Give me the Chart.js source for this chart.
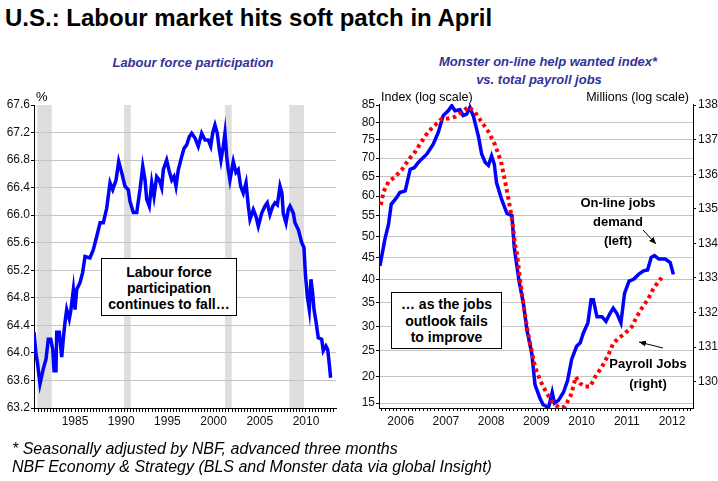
<!DOCTYPE html>
<html><head><meta charset="utf-8">
<script src="https://cdn.jsdelivr.net/npm/chart.js@4.4.1/dist/chart.umd.min.js"></script>
<style>
body{margin:0;background:#fff;}
#wrap{position:relative;width:718px;height:481px;overflow:hidden;font-family:'Liberation Sans',Arial,sans-serif;color:#000;}
.t{position:absolute;white-space:nowrap;}
canvas{position:absolute;}
.box{position:absolute;box-sizing:border-box;border:1.5px solid #000;background:#fff;text-align:center;font-weight:bold;font-size:14px;white-space:nowrap;}
</style></head><body><div id="wrap">
<canvas id="c1" width="350" height="340" style="left:0;top:90px"></canvas>
<canvas id="c2" width="368" height="340" style="left:350px;top:90px"></canvas>
<div class="t" style="left:5px;top:6px;font-size:24px;line-height:24px;font-weight:bold;">U.S.: Labour market hits soft patch in April</div>
<div class="t" style="left:93px;width:200px;text-align:center;top:56px;font:italic bold 13px/13px 'Liberation Sans',Arial,sans-serif;color:#333399;">Labour force participation</div>
<div class="t" style="left:439px;width:200px;text-align:center;top:53px;font:italic bold 13px/18px 'Liberation Sans',Arial,sans-serif;color:#333399;">Monster on-line help wanted index*<br>vs. total payroll jobs</div>
<div class="t" style="left:36px;top:90px;font-size:13px;line-height:13px;">%</div>
<div class="t" style="left:381px;top:91px;font-size:12.5px;line-height:13px;">Index (log scale)</div>
<div class="t" style="right:29px;top:91px;font-size:12.5px;line-height:13px;">Millions (log scale)</div>
<div class="box" style="left:101px;top:258px;width:136px;height:58px;padding-top:4.5px;line-height:16.3px;">Labour force<br>participation<br>continues to fall…</div>
<div class="box" style="left:391px;top:292px;width:111px;height:57px;padding-top:3px;line-height:16.7px;">… as the jobs<br>outlook fails<br>to improve</div>
<div class="t" style="left:558px;width:120px;text-align:center;top:192.5px;font:bold 13px/19px 'Liberation Sans',Arial,sans-serif;">On-line jobs<br>demand<br>(left)</div>
<div class="t" style="left:588px;width:120px;text-align:center;top:353.5px;font:bold 13px/20px 'Liberation Sans',Arial,sans-serif;">Payroll Jobs<br>(right)</div>
<svg style="position:absolute;left:0;top:0" width="718" height="481">
<defs><marker id="ah" markerWidth="8" markerHeight="8" refX="7" refY="4" orient="auto" markerUnits="userSpaceOnUse"><path d="M0,1 L7,4 L0,7 z" fill="#000"/></marker></defs>
<line x1="643" y1="230" x2="656" y2="244" stroke="#000" stroke-width="1" marker-end="url(#ah)"/>
<line x1="663" y1="348" x2="639" y2="342" stroke="#000" stroke-width="1" marker-end="url(#ah)"/>
</svg>
<div class="t" style="left:12px;top:440px;font-size:16px;line-height:18px;font-style:italic;">* Seasonally adjusted by NBF, advanced three months<br>NBF Economy &amp; Strategy (BLS and Monster data via global Insight)</div>
</div>
<script>
// ---------- Left chart data: labour force participation (%) ----------
const lfpYears = [1980.56,1980.78,1980.92,1981.21,1981.57,1981.86,1982.11,1982.37,1982.59,1982.73,1982.94,1983.02,1983.30,1983.56,1983.73,1983.92,1984.10,1984.38,1984.53,1984.82,1985.00,1985.18,1985.54,1985.83,1986.08,1986.62,1986.98,1987.35,1987.71,1988.06,1988.43,1988.79,1989.08,1989.44,1989.73,1990.05,1990.41,1990.77,1990.95,1991.31,1991.68,1992.03,1992.33,1992.58,1992.76,1993.04,1993.30,1993.55,1993.84,1994.12,1994.38,1994.56,1994.92,1995.21,1995.47,1995.71,1995.93,1996.18,1996.55,1996.80,1997.09,1997.37,1997.63,1997.99,1998.34,1998.71,1999.07,1999.43,1999.69,1999.90,2000.15,2000.40,2000.62,2000.80,2001.05,2001.23,2001.42,2001.59,2001.77,2002.13,2002.42,2002.67,2002.93,2003.21,2003.51,2003.76,2003.94,2004.30,2004.59,2004.84,2005.21,2005.56,2005.81,2006.10,2006.40,2006.65,2006.90,2007.19,2007.40,2007.54,2007.84,2008.08,2008.27,2008.63,2008.81,2009.17,2009.54,2009.78,2009.93,2010.14,2010.36,2010.54,2010.72,2010.87,2011.08,2011.33,2011.70,2011.87,2012.16,2012.35,2012.49,2012.67];
const lfpValues = [64.30,63.98,63.87,63.55,63.77,63.91,64.20,64.20,64.05,63.74,63.74,64.30,64.30,63.94,64.20,64.45,64.63,64.49,64.60,64.92,64.63,64.92,65.02,65.17,65.40,65.38,65.50,65.69,65.89,65.89,66.10,66.47,66.37,66.51,66.78,66.62,66.42,66.37,66.20,66.04,66.04,66.37,66.71,66.51,66.23,66.13,66.47,66.27,66.56,66.51,66.40,66.66,66.80,66.63,66.51,66.56,66.42,66.66,66.85,66.97,67.02,67.14,67.19,67.12,67.00,67.19,67.09,67.09,67.00,67.19,67.31,67.19,66.95,66.80,67.00,67.19,66.85,66.66,66.51,66.78,66.62,66.66,66.42,66.32,66.47,66.13,65.94,66.08,65.98,65.84,66.03,66.13,66.18,66.01,66.13,66.18,66.15,66.42,66.32,66.03,65.89,66.08,66.13,66.03,65.89,65.79,65.60,65.53,65.16,64.83,64.63,65.07,64.87,64.63,64.46,64.22,64.20,64.03,64.10,64.05,63.88,63.64];
const recessionStarts = [1980.92, 1990.30, 2001.23, 2008.19];
const recessionEnds   = [1982.48, 1991.03, 2001.96, 2009.78];
const lfpTicks = [63.2,63.6,64.0,64.4,64.8,65.2,65.6,66.0,66.4,66.8,67.2,67.6];
const lfpYearLabels = [1985,1990,1995,2000,2005,2010];
const LFP_XMIN = 1980.56, LFP_XMAX = 2013.25;

// ---------- Right chart data ----------
const monsterYears = [2005.54,2005.65,2005.73,2005.79,2005.91,2005.98,2006.10,2006.21,2006.30,2006.39,2006.46,2006.58,2006.72,2006.83,2006.94,2007.05,2007.13,2007.20,2007.31,2007.38,2007.46,2007.53,2007.61,2007.72,2007.79,2007.87,2007.94,2008.01,2008.07,2008.12,2008.23,2008.35,2008.46,2008.51,2008.62,2008.71,2008.79,2008.90,2008.97,2009.08,2009.15,2009.27,2009.35,2009.40,2009.49,2009.60,2009.69,2009.78,2009.89,2009.97,2010.04,2010.14,2010.21,2010.26,2010.34,2010.45,2010.54,2010.63,2010.70,2010.78,2010.87,2010.95,2011.05,2011.15,2011.26,2011.37,2011.46,2011.54,2011.61,2011.71,2011.85,2011.96,2012.03];
const monsterIndex = [43.1,49.3,52.9,57.9,59.6,60.9,61.3,67.0,67.4,68.8,69.7,71.1,73.8,77.1,81.9,83.3,84.8,83.3,83.6,81.9,82.3,84.3,81.6,75.9,71.1,68.8,68.0,70.6,68.3,63.4,59.2,55.6,55.1,47.5,39.5,35.0,29.3,24.4,18.4,15.9,14.7,14.2,17.0,15.0,15.5,17.0,19.2,23.3,25.9,26.6,28.6,30.7,35.6,35.6,32.0,32.0,31.0,32.7,33.8,32.7,30.7,37.0,39.7,40.1,41.2,42.0,42.2,45.1,45.5,44.7,44.7,43.9,41.2];
const payrollYears = [2005.56,2005.62,2005.73,2005.87,2006.02,2006.17,2006.32,2006.46,2006.61,2006.76,2006.91,2007.05,2007.20,2007.35,2007.50,2007.64,2007.79,2007.94,2008.09,2008.22,2008.31,2008.38,2008.46,2008.53,2008.57,2008.64,2008.71,2008.79,2008.86,2008.97,2009.08,2009.23,2009.38,2009.50,2009.63,2009.75,2009.82,2009.87,2009.97,2010.08,2010.19,2010.30,2010.45,2010.59,2010.70,2010.81,2010.96,2011.11,2011.22,2011.33,2011.48,2011.59,2011.70,2011.77];
const payrollJobs = [135.11,135.49,135.78,135.92,136.12,136.41,136.65,136.94,137.23,137.42,137.61,137.61,137.66,137.80,137.95,137.80,137.51,137.23,136.84,136.36,135.78,135.30,134.72,133.95,133.71,132.94,132.27,131.59,131.11,130.43,130.05,129.66,129.38,129.25,129.28,129.57,129.86,130.14,129.95,129.86,129.86,130.14,130.43,130.77,131.11,131.25,131.40,131.59,131.88,132.12,132.41,132.70,132.89,133.01];
const indexTicks = [15,20,25,30,35,40,45,50,55,60,65,70,75,80,85];
const payrollTicks = [130,131,132,133,134,135,136,137,138];
const rightYearLabels = [2006,2007,2008,2009,2010,2011,2012];
const R_XMIN = 2005.52, R_XMAX = 2012.464;
const INDEX_MIN = 14.1, INDEX_MAX = 85.3, PAY_MIN = 129.24, PAY_MAX = 138.03;
const INDEX_SHIFT = 100;

// ---------- helpers ----------
const FONT_TICK = {family:"'Liberation Sans Narrow','Arial Narrow','Liberation Sans',Arial,sans-serif", size:12};
const TICK_COLOR = '#111';
const GRID = '#c4c4c4';

class ShiftLogScale extends Chart.LinearScale {
  _lg(v){ return Math.log(v + INDEX_SHIFT); }
  getPixelForValue(value){
    if (value === null || value === undefined || isNaN(value)) return NaN;
    const a = this._lg(this.min), b = this._lg(this.max);
    return this.getPixelForDecimal((this._lg(value) - a) / (b - a));
  }
  getValueForPixel(pixel){
    const a = this._lg(this.min), b = this._lg(this.max);
    return Math.exp(a + this.getDecimalForPixel(pixel) * (b - a)) - INDEX_SHIFT;
  }
}
ShiftLogScale.id = 'shiftlog';
ShiftLogScale.defaults = {};
Chart.register(ShiftLogScale);

const recessionPlugin = {
  id: 'recessions',
  beforeDraw(chart, args, opts){
    const {ctx, chartArea:a} = chart; const x = chart.scales.x;
    ctx.save(); ctx.fillStyle = '#dedede';
    opts.starts.forEach((s,i)=>{
      const x1 = x.getPixelForValue(s), x2 = x.getPixelForValue(opts.ends[i]);
      ctx.fillRect(x1, a.top, x2 - x1, a.bottom - a.top);
    });
    ctx.restore();
  }
};

function stepTicks(scale, perYear){
  const t = [];
  for (let k = Math.ceil(scale.min*perYear - 1e-9); k <= Math.floor(scale.max*perYear + 1e-9); k++) t.push({value:k/perYear});
  scale.ticks = t;
}
function yearLabel(list){
  return (v)=>{ const r = Math.round(v); return (Math.abs(v - r) < 1e-6 && list.includes(r)) ? String(r) : ''; };
}
const xy = (xs, ys) => xs.map((x,i)=>({x, y:ys[i]}));

new Chart(document.getElementById('c1'), {
  type:'line',
  data:{datasets:[{data:xy(lfpYears, lfpValues), borderColor:'#0000ff', borderWidth:3.5, pointRadius:0, tension:0, fill:false}]},
  options:{
    responsive:false, animation:false, devicePixelRatio:1,
    layout:{padding:{top:15, right:14, left:0, bottom:0}},
    plugins:{legend:{display:false}, tooltip:{enabled:false}, recessions:{starts:recessionStarts, ends:recessionEnds}},
    scales:{
      x:{type:'linear', min:LFP_XMIN, max:LFP_XMAX,
         grid:{drawOnChartArea:false, tickLength:4, tickColor:'#000'}, border:{color:'#000'},
         ticks:{autoSkip:false, maxRotation:0, minRotation:0, padding:2, font:FONT_TICK, color:TICK_COLOR, callback:yearLabel(lfpYearLabels)},
         afterBuildTicks:s=>stepTicks(s,3), afterFit:s=>{s.height=22;}},
      y:{type:'linear', min:lfpTicks[0], max:lfpTicks[lfpTicks.length-1], bounds:'data',
         grid:{color:c=>(c.tick && c.tick.value >= 67.6) ? 'rgba(0,0,0,0)' : GRID, tickColor:'#000', tickLength:3},
         border:{color:'#000'},
         ticks:{padding:1, font:FONT_TICK, color:TICK_COLOR, callback:v=>Number(v).toFixed(1)},
         afterBuildTicks:s=>{s.ticks = lfpTicks.map(v=>({value:v}));}, afterFit:s=>{s.width=34;}}
    }
  },
  plugins:[recessionPlugin]
});

new Chart(document.getElementById('c2'), {
  type:'line',
  data:{datasets:[
    {data:xy(payrollYears, payrollJobs), yAxisID:'y1', borderColor:'#ff0000', borderWidth:4, borderDash:[3.5,3.5], pointRadius:0, tension:0, fill:false},
    {data:xy(monsterYears, monsterIndex), yAxisID:'y', borderColor:'#0000ff', borderWidth:3.5, pointRadius:0, tension:0, fill:false}
  ]},
  options:{
    responsive:false, animation:false, devicePixelRatio:1,
    layout:{padding:{top:14, right:0, left:0, bottom:0}},
    plugins:{legend:{display:false}, tooltip:{enabled:false}},
    scales:{
      x:{type:'linear', min:R_XMIN, max:R_XMAX,
         grid:{drawOnChartArea:false, tickLength:3, tickColor:'#000'}, border:{color:'#000'},
         ticks:{autoSkip:false, maxRotation:0, minRotation:0, padding:3, font:FONT_TICK, color:TICK_COLOR, callback:yearLabel(rightYearLabels)},
         afterBuildTicks:s=>stepTicks(s,12), afterFit:s=>{s.height=22;}},
      y:{type:'shiftlog', position:'left', min:INDEX_MIN, max:INDEX_MAX, bounds:'data',
         grid:{color:c=>(c.tick && c.tick.value >= 85) ? 'rgba(0,0,0,0)' : GRID, tickColor:'#000', tickLength:3},
         border:{color:'#000'},
         ticks:{padding:1, font:FONT_TICK, color:TICK_COLOR, callback:v=>String(v)},
         afterBuildTicks:s=>{s.ticks = indexTicks.map(v=>({value:v}));}, afterFit:s=>{s.width=29;}},
      y1:{type:'linear', position:'right', min:PAY_MIN, max:PAY_MAX, bounds:'data',
         grid:{drawOnChartArea:false, tickColor:'#000', tickLength:3},
         border:{color:'#000'},
         ticks:{padding:2, font:FONT_TICK, color:TICK_COLOR, callback:v=>String(v)},
         afterBuildTicks:s=>{s.ticks = payrollTicks.map(v=>({value:v}));}, afterFit:s=>{s.width=25;}}
    }
  }
});
</script>
</body></html>
